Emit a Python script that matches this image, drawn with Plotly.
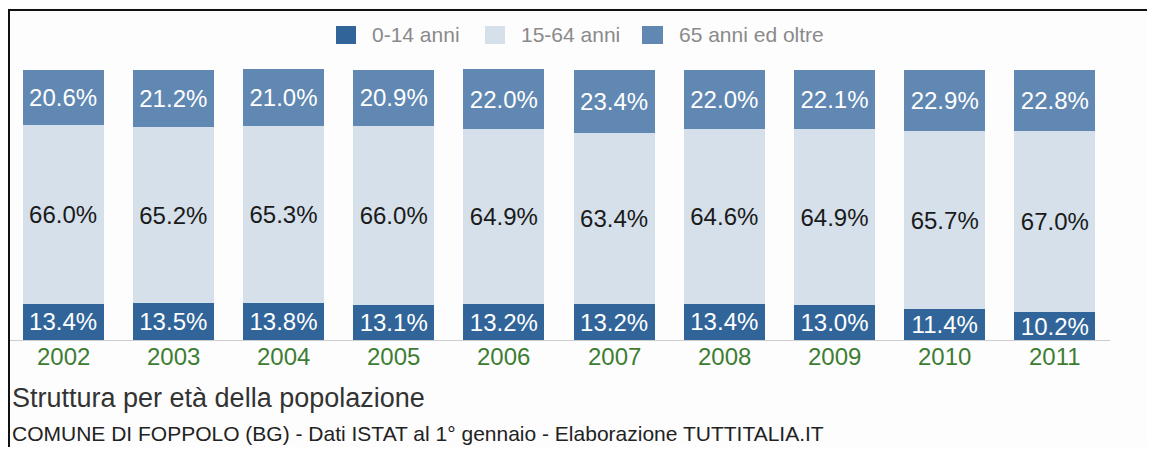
import plotly.graph_objects as go

years = ["2002", "2003", "2004", "2005", "2006", "2007", "2008", "2009", "2010", "2011"]
age_0_14 = [13.4, 13.5, 13.8, 13.1, 13.2, 13.2, 13.4, 13.0, 11.4, 10.2]
age_15_64 = [66.0, 65.2, 65.3, 66.0, 64.9, 63.4, 64.6, 64.9, 65.7, 67.0]
age_65_plus = [20.6, 21.2, 21.0, 20.9, 22.0, 23.4, 22.0, 22.1, 22.9, 22.8]
series_names = ["0-14 anni", "15-64 anni", "65 anni ed oltre"]
series_colors = ["#31659a", "#d5e0eb", "#6088b2"]
text_colors = ["#ffffff", "#1a1a1a", "#ffffff"]

# page is offset by the browser's 8px body margin
OFF = 8
W, H = 1155 - 2 * OFF, 455 - 2 * OFF
L, R, T, B = 8 - OFF, 1110 - OFF, 69 - OFF, 340 - OFF
FONT = "Liberation Sans, Arial, Helvetica, sans-serif"


def px(x):
    # x in reference page pixels -> paper
    return (x - OFF - L) / (R - L)


def py(y):
    return (B - (y - OFF)) / (B - T)


fig = go.Figure()
for name, vals, col, tcol in zip(series_names, [age_0_14, age_15_64, age_65_plus],
                                 series_colors, text_colors):
    fig.add_trace(go.Bar(
        x=years, y=vals, name=name,
        marker=dict(color=col, line=dict(width=0)),
        text=[f"{v:.1f}%" for v in vals],
        textposition="inside", insidetextanchor="middle", textangle=0,
        insidetextfont=dict(family=FONT, size=24, color=tcol),
        cliponaxis=False, showlegend=False,
    ))

shapes = []
annotations = []
# custom legend
legend_items = [(336, 356, 370), (485, 505, 519), (642, 663, 677)]
for (x0, x1, tx), name, col in zip(legend_items, series_names, series_colors):
    shapes.append(dict(type="rect", xref="paper", yref="paper",
                       x0=px(x0), x1=px(x1), y0=py(44), y1=py(26),
                       fillcolor=col, line=dict(width=0)))
    annotations.append(dict(text=name, xref="paper", yref="paper",
                            x=px(tx), y=py(35), xanchor="left", yanchor="middle",
                            showarrow=False, font=dict(family=FONT, size=21, color="#8a8a8a")))

# year labels
for i, yr in enumerate(years):
    annotations.append(dict(text=yr, xref="x", yref="paper", x=i, y=py(356),
                            xanchor="center", yanchor="middle", showarrow=False,
                            font=dict(family=FONT, size=24, color="#3d7d33")))

# frame lines (top, left)
shapes.append(dict(type="line", xref="paper", yref="paper",
                   x0=px(8), x1=px(1155), y0=py(10), y1=py(10),
                   line=dict(color="#111111", width=2)))
shapes.append(dict(type="line", xref="paper", yref="paper",
                   x0=px(9), x1=px(9), y0=py(10), y1=py(455),
                   line=dict(color="#111111", width=2)))

annotations.append(dict(text="Struttura per età della popolazione", xref="paper", yref="paper",
                        x=px(10), y=py(398), xanchor="left", yanchor="middle", showarrow=False,
                        font=dict(family=FONT, size=27, color="#333333")))
annotations.append(dict(text="COMUNE DI FOPPOLO (BG) - Dati ISTAT al 1° gennaio - Elaborazione TUTTITALIA.IT",
                        xref="paper", yref="paper",
                        x=px(10), y=py(447), xanchor="left", yanchor="bottom", showarrow=False,
                        font=dict(family=FONT, size=21, color="#222222")))

fig.update_layout(
    barmode="stack", bargap=0.265,
    width=W, height=H, autosize=False,
    margin=dict(l=L, r=W - R, t=T, b=H - B, pad=0),
    paper_bgcolor="#fdfdfd", plot_bgcolor="#fdfdfd",
    uniformtext=dict(minsize=24, mode="show"),
    shapes=shapes, annotations=annotations,
    font=dict(family=FONT),
    showlegend=False,
)
fig.update_xaxes(type="category", range=[-0.5, 9.5], showgrid=False, showline=True,
                 linecolor="#cccccc", linewidth=1, ticks="", showticklabels=False,
                 zeroline=False, fixedrange=True)
fig.update_yaxes(range=[0, 100.2], showgrid=False, showticklabels=False, zeroline=False,
                 showline=False, fixedrange=True)

fig.write_html("out.html")
